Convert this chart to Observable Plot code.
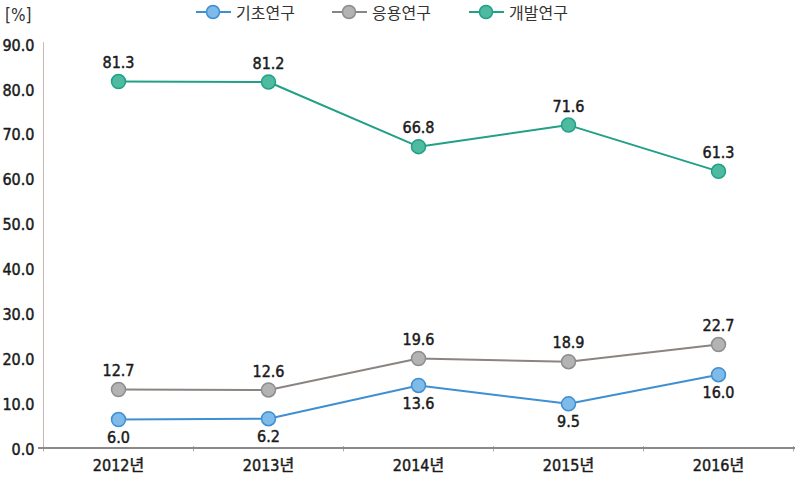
<!DOCTYPE html>
<html><head><meta charset="utf-8">
<script src="https://cdn.jsdelivr.net/npm/d3@7"></script>
<script src="https://cdn.jsdelivr.net/npm/@observablehq/plot@0.6"></script>
<style>
body{margin:0;background:#fff;width:795px;height:477px;overflow:hidden;position:relative;}
#legend{position:relative;height:24px;}
.item{position:absolute;top:0;height:24px;display:flex;align-items:center;font-family:"Noto Sans CJK KR",sans-serif;font-size:16px;color:#333;}
#unit{position:absolute;left:5px;top:5px;font-family:"DejaVu Sans Condensed","DejaVu Sans",sans-serif;font-stretch:condensed;font-size:17px;color:#333;}
svg text{font-family:"DejaVu Sans Condensed","DejaVu Sans","Noto Sans CJK KR",sans-serif;font-stretch:condensed;}
</style></head><body>
<div id="legend"></div>
<div id="unit">[%]</div>
<div id="chart"></div>
<script>
const years = ["2012년","2013년","2014년","2015년","2016년"];
const seriesNames = ["기초연구","응용연구","개발연구"];
const basic = [6.0, 6.2, 13.6, 9.5, 16.0];
const applied = [12.7, 12.6, 19.6, 18.9, 22.7];
const development = [81.3, 81.2, 66.8, 71.6, 61.3];
const yTicks = [0,10,20,30,40,50,60,70,80,90];

const styles = {
  "기초연구": {stroke:"#3f8fd2", fill:"#7fbbe9", dotStroke:"#3f8fd2", labelDy: 1},
  "응용연구": {stroke:"#8b8480", fill:"#b3b3b3", dotStroke:"#8d8d8d", labelDy: -1},
  "개발연구": {stroke:"#21a088", fill:"#4ebba0", dotStroke:"#21a088", labelDy: -1}
};
const values = {"기초연구": basic, "응용연구": applied, "개발연구": development};
const data = [];
for (const s of seriesNames) years.forEach((y,i)=>data.push({series:s, year:y, value:values[s][i]}));

// legend
const legendX = {"기초연구":196,"응용연구":332,"개발연구":469};
const lg = document.getElementById("legend");
for (const s of seriesNames) {
  const st = styles[s];
  const d = document.createElement("div");
  d.className = "item";
  d.style.left = legendX[s] + "px";
  d.innerHTML = `<svg width="36" height="24"><line x1="0" x2="35" y1="12" y2="12" stroke="${st.stroke}" stroke-width="2"/><circle cx="17" cy="12" r="6.5" fill="${st.fill}" stroke="${st.dotStroke}" stroke-width="1.5"/></svg><span style="margin-left:4px">${s}</span>`;
  lg.appendChild(d);
}

const txt = {fill: "#1a1a1a", stroke: "#1a1a1a", strokeWidth: 0.45};
const axTxt = {fill: "#1a1a1a", textStroke: "#1a1a1a", textStrokeWidth: 0.45};
const marks = [
  Plot.ruleX([0], {x: () => years[0], dx: -75, y1: 0, y2: 90, stroke: "#c9b9b2", strokeWidth: 1}),
  Plot.ruleX(years, {x: d => d, dx: -75, y1: 0, y2: -1.2, stroke: "#aaa", strokeWidth: 1}),
  Plot.ruleX([years[4]], {x: d => d, dx: 75, y1: 0, y2: -1.2, stroke: "#aaa", strokeWidth: 1}),
  Plot.ruleY([0], {stroke: "#8a8a8a", strokeWidth: 2, dy: 1.5, insetLeft: -5, insetRight: -3}),
  Plot.axisY({ticks: yTicks, tickSize: 0, tickPadding: 9, dy: 3, tickFormat: d => d.toFixed(1), fontSize: 16, ...axTxt, label: null}),
  Plot.axisX({tickSize: 0, tickPadding: 13, fontSize: 16, ...axTxt, label: null})
];
for (const s of seriesNames) {
  const st = styles[s];
  const sd = data.filter(d => d.series === s);
  marks.push(Plot.line(sd, {x: "year", y: "value", stroke: st.stroke, strokeWidth: 2}));
  marks.push(Plot.dot(sd, {x: "year", y: "value", r: 7, fill: st.fill, stroke: st.dotStroke, strokeWidth: 1.5}));
  marks.push(Plot.text(sd, {x: "year", y: "value", text: d => d.value.toFixed(1), dy: st.labelDy * 18.5, fontSize: 16, ...txt}));
}

const chart = Plot.plot({
  width: 795, height: 453,
  marginTop: 18, marginBottom: 31, marginLeft: 43, marginRight: 2,
  x: {type: "band", domain: years, padding: 0},
  y: {domain: [0, 90]},
  style: {background: "#fff", overflow: "visible"},
  marks
});
document.getElementById("chart").appendChild(chart);
</script>
</body></html>
